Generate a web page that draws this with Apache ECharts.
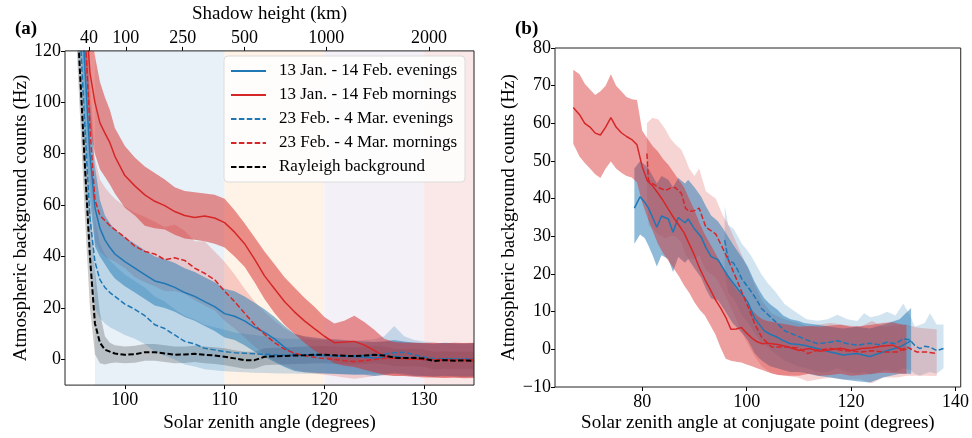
<!DOCTYPE html>
<html>
<head>
<meta charset="utf-8" />
<title>Atmospheric background counts</title>
<script src="https://cdn.jsdelivr.net/npm/echarts@6.0.0/dist/echarts.min.js"></script>
<style>
  html, body { margin: 0; padding: 0; background: #fff; }
  #main { width: 972px; height: 438px; }
</style>
</head>
<body>
<div id="main"></div>
<script type="text/javascript">
// ---------- panel (a): solar zenith angle (degrees) ----------
var A_X = [95, 95.5, 96, 96.5, 97, 97.5, 98, 98.5, 99, 100, 101, 102, 103, 104, 105, 106, 107, 108, 109, 110,
  111, 112, 113, 114, 115, 116, 117, 118, 119, 120, 121, 122, 123, 124, 125, 126, 127, 128, 129, 130,
  131, 132, 133, 134, 135];

// Rayleigh background
var A_RAY = [150, 112, 75, 40, 14, 6.5, 3.8, 3, 2.3, 1.8, 2.0, 2.8, 2.8, 2.3, 1.8, 1.9, 2.2, 1.8, 1.5, 1.0,
  0.4, -0.3, -0.3, 1.0, 1.2, 1.3, 1.5, 1.6, 1.8, 1.8, 1.6, 1.4, 1.3, 1.5, 1.8, 1.5, 0.7, 0.5, 0.6, 0.3,
  -0.6, -0.3, -0.5, -0.4, -0.6];
var A_RAY_HI = [165, 130, 95, 62, 35, 18, 9, 6.5, 5.5, 5, 5.3, 6, 6, 5.5, 5, 5, 5.3, 5, 4.7, 4.3,
  3.6, 3, 3, 4.3, 4.5, 4.6, 4.8, 5, 5.2, 5.2, 5, 4.8, 4.7, 5, 5.3, 5, 4.2, 4, 4.1, 3.8,
  3, 3.2, 3, 3.1, 3];
var A_RAY_LO = [135, 95, 55, 20, 2, -1.5, -2, -1.5, -1.2, -1.5, -1.3, -0.5, -0.5, -1, -1.5, -1.4, -1, -1.5, -1.8, -2.3,
  -3, -3.6, -3.6, -2.3, -2.1, -2, -1.8, -1.7, -1.5, -1.5, -1.7, -1.9, -2, -1.8, -1.5, -1.8, -2.6, -2.8, -2.7, -3,
  -3.9, -3.6, -3.8, -3.7, -3.9];

// 13 Jan. - 14 Feb. evenings
var A_EVE1 = [185, 150, 113, 80, 59, 51, 46.5, 43.5, 41, 38, 35.5, 33, 30.5, 29.5, 28, 26, 24.5, 22.5, 20.5, 17.8,
  16.8, 15, 12.5, 10.5, 8, 4.8, 2, 1.8, 1.8, 1.6, 1.4, 1.2, 1, 0.9, 0.5, 0.8, 1.2, 0.8, 0.4, 0,
  -0.2, 0.2, 0.1, 0, 0.2];
var A_EVE1_HI = [200, 170, 135, 100, 75, 62, 56, 53, 50.5, 47.5, 45, 42.5, 40, 39, 37.5, 35.5, 34, 32, 30, 27.5,
  26.5, 24.5, 22, 19.5, 16.5, 13, 10, 9, 8.5, 8, 7.8, 7.5, 7.2, 7, 6.8, 7, 7.5, 7, 6.5, 6.3,
  6, 6.5, 6.3, 6.2, 6.4];
var A_EVE1_LO = [170, 130, 92, 62, 44, 40, 37, 34, 31.5, 28.5, 26, 23.5, 21, 20, 18.5, 16.5, 15, 13, 11, 8.5,
  7.5, 5.5, 3, 1, -1, -3, -4.5, -5, -5.2, -5.4, -5.6, -5.8, -6, -6, -6.5, -6, -5.5, -6, -6.5, -6.5,
  -6.8, -6.4, -6.6, -6.8, -6.6];

// 13 Jan. - 14 Feb mornings
var A_MOR1 = [200, 170, 140, 111.5, 100, 92, 88, 84.3, 79, 71.5, 67.5, 64, 61.5, 59.8, 57.5, 56, 55.2, 55.8, 55, 53.2,
  49.5, 45, 39, 32.5, 27.5, 22.5, 18.5, 15, 12, 9, 6.5, 6.8, 7, 5.6, 3.5, 1.3, 0.6, 0.4, 0.2, 0,
  0, -0.3, -0.2, -0.4, -0.5];
var A_MOR1_HI = [215, 190, 160, 135, 118, 108, 102, 97, 90, 83, 78.5, 75, 72.5, 70, 67, 65.5, 65, 64.5, 64, 62.5,
  58, 53, 47.5, 42, 37, 32, 28, 24, 20.5, 16.5, 14, 15, 17, 14.5, 11.5, 8, 6.8, 6.5, 6.5, 6.4,
  6.5, 6.3, 6.5, 6.4, 6.5];
var A_MOR1_LO = [180, 150, 118, 90, 80, 74, 71, 68, 64.5, 59, 56, 52, 51, 50.5, 48.5, 47, 46.5, 46, 45, 43.5,
  40, 36, 30, 23.5, 18, 13.5, 10, 6.5, 3.5, 1, -1.5, -2.5, -3, -4, -5, -6, -6.5, -6.5, -6.8, -7,
  -7, -7.2, -7, -7.3, -7.2];

// 23 Feb. - 4 Mar. evenings
var A_EVE2 = [160, 128, 90, 55, 38, 31, 28, 26, 24.5, 21.5, 19.5, 17, 13.5, 12, 9.5, 7, 6, 4.3, 3.7, 3,
  2.6, 2.4, 2.2, 2, 1.8, 1.6, 1.6, 1.5, 1.5, 1.4, 1.4, 1.3, 1.4, 1.5, 1.6, 2, 2.6, 2.8, 1.8, 0.9,
  0.3, 0.2, 0.1, 0.1, 0];
var A_EVE2_HI = [180, 150, 112, 78, 55, 45, 41, 38.5, 36.5, 33, 30.5, 28, 24.5, 22.5, 19.5, 17, 15.5, 13.5, 12.5, 11.5,
  10.5, 10, 9.5, 9, 8.5, 8, 8, 7.8, 7.6, 7.5, 7.4, 7.2, 7.3, 7.5, 7.8, 9, 13, 9, 7.5, 7,
  6.5, 6.3, 6.2, 6.2, 6];
var A_EVE2_LO = [140, 105, 68, 35, 20, 16, 14, 12.5, 11.5, 9.5, 8, 6, 3, 1.5, 0, -2, -2.8, -3.8, -4.2, -4.6,
  -4.8, -5, -5.2, -5.3, -5.4, -5.5, -5.5, -5.6, -5.6, -5.7, -5.7, -5.8, -5.8, -5.7, -5.6, -5.5, -5.2, -5.3, -6, -6.4,
  -6.6, -6.7, -6.8, -6.8, -6.9];

// 23 Feb. - 4 Mar. mornings
var A_MOR2 = [190, 160, 128, 90, 62, 56, 54, 52, 50.5, 47.5, 44, 42, 41, 38.8, 39.5, 38.5, 35.5, 33.5, 31, 26.5,
  22.5, 18, 13.5, 9.8, 6.5, 4, 2.4, 1.5, 0.8, 0.3, 0, -0.5, -0.8, -0.5, 0, 0.4, 0.5, 0.3, 0.1, 0,
  -0.1, 0, -0.2, -0.1, 0];
var A_MOR2_HI = [210, 180, 148, 110, 78, 70, 67, 64.5, 62.5, 59.5, 57, 55.5, 53.5, 51.5, 52.5, 50, 46, 46, 42, 38,
  33, 27.5, 22.5, 18.5, 15, 12, 10, 8.7, 8, 7.5, 7.2, 6.8, 6.5, 6.5, 6.8, 7, 7, 6.8, 6.5, 6.4,
  6.3, 6.4, 6.2, 6.2, 6.3];
var A_MOR2_LO = [170, 140, 108, 70, 46, 42, 40, 39, 38, 35.5, 32, 30, 28.5, 26.5, 26.5, 25.5, 23, 21, 19, 15,
  12, 8.5, 5, 2, -0.5, -2.5, -4, -5, -5.5, -6, -6.5, -7, -7.5, -7, -6.5, -6.3, -6.4, -6.5, -6.6, -6.8,
  -7, -7, -7.2, -7.1, -7];

// shaded shadow-height regions
var SPAN_START = [97, 110, 120, 130];
var SPAN_END = [110, 120, 130, 135];
var SPAN_COLORS = ['#e8f1f7', '#fff2e6', '#f3f0f7', '#fae8e8'];

// top axis: shadow height (km) and where it falls in zenith angle
var SH_LABELS = ['40', '100', '250', '500', '1000', '2000'];
var SH_ANGLES = [96.4, 100.1, 105.8, 112.0, 120.2, 130.5];

var A_XTICKS = [100, 110, 120, 130];
var A_YTICKS = [0, 20, 40, 60, 80, 100, 120];

// ---------- panel (b): solar zenith angle at conjugate point ----------
var B_MOR1_X = [66.8, 68, 69, 70, 71, 72, 73, 74, 75, 76, 77, 78, 79, 80, 81, 82, 83, 84, 85, 86, 87, 88, 89, 90,
  91, 92, 93, 94, 95, 96, 97, 98, 99, 100, 101, 102, 103, 104, 106, 108, 110, 112, 114, 116, 118, 120, 122,
  124, 126, 128, 130, 130.6];
var B_MOR1 = [64.2, 62.3, 60, 59, 57.4, 56.9, 59, 61.5, 59, 57.5, 56.5, 55.7, 54.3, 48.5, 44.7, 43.4, 41.5, 39.5,
  37.2, 35, 33, 31, 28, 25, 21.5, 18.6, 16, 13.2, 11, 8.5, 5.3, 5.4, 5.8, 4.3, 3, 2, 1.5, 1.6, 1.3, 0.6,
  -0.3, 0.2, -0.5, -0.1, 0.3, -0.3, 0.2, 0.4, 0.9, 1.1, -0.2, 0];
var B_MOR1_HI = [74.2, 73, 70.5, 69, 67.5, 68.5, 70, 73, 70, 68.5, 67, 66.4, 66.2, 58, 56, 54, 52.5, 50.5, 49, 47,
  45, 43, 40, 37, 33.5, 30.5, 28, 25.5, 23, 20.5, 18, 16, 14.5, 12.5, 10.5, 9, 8, 7.5, 7, 6.5, 6, 6.2, 6,
  6.3, 6.5, 6, 6.2, 6.5, 7, 7.2, 6.5, 6.5];
var B_MOR1_LO = [54.6, 51.2, 49.5, 48, 46.5, 45.5, 48, 49.9, 48, 46.9, 46, 45.6, 44.3, 39, 35, 31.5, 28, 25.5,
  23.5, 21.5, 19.5, 17, 15, 12.5, 10.5, 9, 6.5, 4, 0.5, -2.5, -3, -3.3, -3.5, -4, -4.5, -5, -5.5, -6, -6.8,
  -7, -7, -6.5, -7, -6.8, -6.5, -7, -6.8, -6.5, -6.2, -6.3, -6.5, -6.5];

var B_EVE1_X = [78.5, 79.6, 80.5, 81.2, 82, 82.8, 83.7, 85, 85.9, 86.9, 88.2, 88.8, 90, 91.3, 92.2, 93.2, 94.5,
  95.5, 96.4, 97.3, 98.3, 99.3, 100.2, 101.5, 102.5, 103.4, 104.5, 105.9, 107, 108.4, 110, 111, 113.5, 116,
  118.5, 121.1, 123.6, 126.1, 129.3, 131.5];
var B_EVE1 = [37.5, 40.5, 39, 37.5, 35, 32.4, 35.4, 34.6, 31.1, 35, 33.6, 34.6, 32, 29.8, 27, 24.6, 23.8, 21.5,
  19.5, 17.8, 16, 14.3, 12.6, 8.3, 6.5, 4.9, 4, 3.2, 2.3, 1.5, 1.3, 1.1, 0.2, -0.7, -1.5, -1.1, -1.9, -0.7,
  0.6, 2.3];
var B_EVE1_HI = [48, 50, 49, 48, 46, 44, 46, 45, 43, 45.5, 44, 45, 43, 40.5, 38, 35.5, 34, 32, 30, 28, 26, 24, 22,
  18, 15.5, 13.5, 12, 10.5, 9, 8, 7.5, 7, 6.5, 6, 5.5, 6, 5.5, 6.5, 8, 11];
var B_EVE1_LO = [28, 30.5, 29.5, 27.5, 25, 22, 25, 24, 20.5, 24.5, 23, 24, 21.5, 19, 16, 13.5, 13, 11, 9, 7, 5.5,
  4, 2.5, -1, -2.5, -3.5, -4.5, -5, -5.5, -6, -6, -6.2, -7, -7.5, -8, -8.5, -8.8, -7.5, -6.5, -6.5];

var B_EVE2_X = [95.8, 96.5, 97.5, 98.3, 99.1, 100, 101, 102, 102.8, 104.1, 105.4, 107.3, 109.8, 111.5, 113.6,
  115.5, 117.4, 119.3, 121.2, 122.5, 123.7, 125.3, 126.9, 128.5, 130, 131.3, 132.2, 133.2, 134.1, 135.1, 136.4,
  137.7];
var B_EVE2 = [29, 23.7, 22.9, 21, 18.6, 17, 15.1, 13, 10.9, 9.2, 7.5, 4.9, 3.5, 2.5, 1.5, 1.8, 2.3, 1.5, 1.1, 1.4,
  1.6, 1.2, 1.9, 1.5, 2.8, 2.5, 1, 0.2, 0.8, 0.6, -0.3, 0.2];
var B_EVE2_HI = [38, 33, 32, 30, 28, 26.5, 24.5, 22, 20, 17.5, 15.5, 12, 9.5, 8, 7.6, 8, 9.2, 8, 7.5, 9.6, 8.5, 9,
  10, 9, 12.2, 9, 6, 6.5, 7, 9.6, 6.6, 6.6];
var B_EVE2_LO = [20, 15, 13.5, 11.5, 9, 7.5, 5.5, 3.5, 2, 0.5, -1, -3, -4.5, -5, -6, -6, -5, -6, -6.5, -6, -6.8,
  -6, -5.5, -6, -5, -5.5, -6.5, -7, -6.5, -6, -6.5, -5];

var B_MOR2_X = [80.9, 81.2, 82, 83.1, 84.4, 85.4, 86.3, 87.5, 88.3, 89, 90, 90.9, 92.2, 94.1, 95.3, 96.5, 97.8,
  99.1, 100.4, 101.6, 102.9, 104.8, 107.3, 109.8, 111.7, 113.6, 116.1, 118.5, 121.8, 124, 126.2, 128.8, 130.7,
  132.6, 134.5, 136.4];
var B_MOR2 = [52, 44.8, 44, 43, 42.2, 42.8, 43, 41.4, 37.5, 36.6, 36.8, 37.5, 32.4, 30.6, 27.2, 23.7, 19.5, 15.1,
  10.9, 6.6, 3.2, 0.6, 0.6, 0.4, -1.1, -0.2, 0.2, -0.3, -0.7, -0.4, -0.7, -0.7, 0.6, -0.7, -0.7, -1.1];
var B_MOR2_HI = [60, 60.5, 61.5, 61, 58.5, 56, 54.5, 53, 50.5, 48, 46, 48, 42, 40, 36, 33, 29, 25, 21, 17, 13, 9.5,
  8, 7, 6, 6.5, 7, 6.5, 6, 7.5, 6, 6.5, 6.5, 5.8, 5.5, 5.3];
var B_MOR2_LO = [40, 33, 32, 30.5, 29.5, 30, 30, 28.5, 25, 24, 24, 25, 21, 19, 16, 12.5, 8.5, 4.5, 1, -2, -4.5,
  -6.5, -7, -7.5, -8.5, -8, -7.5, -8, -8, -9, -7.5, -7.5, -7, -7, -7, -7.1];

var B_XTICKS = [80, 100, 120, 140];

var NAMES = ['13 Jan. - 14 Feb. evenings', '13 Jan. - 14 Feb mornings', '23 Feb. - 4 Mar. evenings',
  '23 Feb. - 4 Mar. mornings', 'Rayleigh background'];

var FONT = "'Liberation Serif', 'DejaVu Serif', serif";
var BLUE = '#1f77b4', RED = '#d62728';
var DASH = [5.5, 2.4];

function fmtNum(v) {
    return v < 0 ? '\u2212' + (-v) : String(v);
}

// filled band between lower and upper curves, drawn as one polygon
function band(xi, yi, xs, lo, hi, fill) {
    return {
        type: 'custom', xAxisIndex: xi, yAxisIndex: yi, clip: true, silent: true, z: 2,
        data: xs.map(function (x, i) { return [x, lo[i], hi[i]]; }),
        encode: { x: 0, y: [1, 2] },
        renderItem: function (params, api) {
            if (params.dataIndex !== 0) return null;
            var pts = [];
            for (var i = 0; i < xs.length; i++) pts.push(api.coord([xs[i], hi[i]]));
            for (var j = xs.length - 1; j >= 0; j--) pts.push(api.coord([xs[j], lo[j]]));
            return { type: 'polygon', shape: { points: pts }, style: { fill: fill } };
        }
    };
}

function line(name, xi, yi, xs, ys, color, dashed, width) {
    return {
        type: 'line', name: name, xAxisIndex: xi, yAxisIndex: yi, symbol: 'none', silent: true, z: 3,
        data: xs.map(function (x, i) { return [x, ys[i]]; }),
        lineStyle: { color: color, width: width || 1.5, type: dashed ? DASH : 'solid' },
        itemStyle: { color: color }
    };
}

var axisText = { fontFamily: FONT, fontSize: 18, color: '#000', showMinLabel: true, showMaxLabel: true, hideOverlap: false };
var nameText = { fontFamily: FONT, fontSize: 19, color: '#000' };
var tickStyle = { length: 4, lineStyle: { color: '#000', width: 1 } };
var noLine = { show: false, onZero: false };

var chart = echarts.init(document.getElementById('main'));

var option = {
    animation: false,
    backgroundColor: '#fff',
    title: [
        { text: '(a)', left: 10, top: 15, textStyle: { fontFamily: FONT, fontSize: 19, fontWeight: 'bold', color: '#000' } },
        { text: '(b)', left: 510, top: 15, textStyle: { fontFamily: FONT, fontSize: 19, fontWeight: 'bold', color: '#000' } }
    ],
    grid: [
        { left: 65, top: 47, width: 409, height: 350, show: true, borderColor: '#222', borderWidth: 1, backgroundColor: 'transparent', z: 10 },
        { left: 555, top: 48, width: 409, height: 350, show: true, borderColor: '#222', borderWidth: 1, backgroundColor: 'transparent', z: 10 }
    ],
    legend: {
        data: NAMES,
        orient: 'vertical',
        left: 224, top: 56,
        itemWidth: 35, itemHeight: 12, itemGap: 6,
        padding: [6, 8, 6, 6],
        backgroundColor: 'rgba(255,255,255,0.82)',
        borderColor: '#dcdcdc', borderWidth: 1, borderRadius: 4,
        itemStyle: { opacity: 0 },
        textStyle: { fontFamily: FONT, fontSize: 17, color: '#000', lineHeight: 18, padding: [0, 0, 0, 8] },
        selectedMode: false,
        z: 12
    },
    xAxis: [
        {
            gridIndex: 0, type: 'value', min: 94, max: 135, position: 'bottom',
            name: 'Solar zenith angle (degrees)', nameLocation: 'middle', nameGap: 27, nameTextStyle: nameText,
            axisLine: noLine, splitLine: { show: false },
            axisTick: Object.assign({ customValues: A_XTICKS }, tickStyle),
            axisLabel: Object.assign({ customValues: A_XTICKS, margin: 6 }, axisText)
        },
        {
            gridIndex: 0, type: 'value', min: 94, max: 135, position: 'top',
            name: 'Shadow height (km)', nameLocation: 'middle', nameGap: 19, nameTextStyle: nameText,
            axisLine: noLine, splitLine: { show: false },
            axisTick: Object.assign({ customValues: SH_ANGLES }, tickStyle),
            axisLabel: Object.assign({
                customValues: SH_ANGLES, margin: 4,
                formatter: function (v) {
                    var best = 0;
                    for (var i = 1; i < SH_ANGLES.length; i++) {
                        if (Math.abs(SH_ANGLES[i] - v) < Math.abs(SH_ANGLES[best] - v)) best = i;
                    }
                    return SH_LABELS[best];
                }
            }, axisText)
        },
        {
            gridIndex: 1, type: 'value', min: 63.3, max: 141, position: 'bottom',
            name: 'Solar zenith angle at conjugate point (degrees)', nameLocation: 'middle', nameGap: 27, nameTextStyle: nameText,
            nameMoveOverlap: false,
            axisLine: noLine, splitLine: { show: false },
            axisTick: Object.assign({ customValues: B_XTICKS }, tickStyle),
            axisLabel: Object.assign({ customValues: B_XTICKS, margin: 6 }, axisText)
        }
    ],
    yAxis: [
        {
            gridIndex: 0, type: 'value', min: -10, max: 120,
            name: 'Atmospheric background counts (Hz)', nameLocation: 'middle', nameGap: 28, nameTextStyle: nameText,
            axisLine: noLine, splitLine: { show: false },
            axisTick: Object.assign({ customValues: A_YTICKS }, tickStyle),
            axisLabel: Object.assign({ customValues: A_YTICKS, margin: 4, formatter: fmtNum }, axisText)
        },
        {
            gridIndex: 1, type: 'value', min: -10, max: 80, interval: 10,
            name: 'Atmospheric background counts (Hz)', nameLocation: 'middle', nameGap: 32, nameTextStyle: nameText,
            axisLine: noLine, splitLine: { show: false },
            axisTick: tickStyle,
            axisLabel: Object.assign({ margin: 4, formatter: fmtNum }, axisText)
        }
    ],
    series: [
        {
            // shadow-height shading behind panel (a)
            type: 'custom', xAxisIndex: 0, yAxisIndex: 0, clip: true, silent: true, z: 1,
            data: SPAN_START.map(function (s, i) { return [s, SPAN_END[i]]; }),
            renderItem: function (params, api) {
                var p0 = api.coord([api.value(0), 0]);
                var p1 = api.coord([api.value(1), 0]);
                var cs = params.coordSys;
                return {
                    type: 'rect',
                    shape: { x: p0[0], y: cs.y, width: p1[0] - p0[0], height: cs.height },
                    style: { fill: SPAN_COLORS[params.dataIndex] }
                };
            }
        },
        band(0, 0, A_X, A_RAY_LO, A_RAY_HI, 'rgba(0,0,0,0.2)'),
        band(0, 0, A_X, A_EVE2_LO, A_EVE2_HI, 'rgba(31,119,180,0.22)'),
        band(0, 0, A_X, A_MOR2_LO, A_MOR2_HI, 'rgba(214,39,40,0.2)'),
        band(0, 0, A_X, A_EVE1_LO, A_EVE1_HI, 'rgba(31,119,180,0.5)'),
        band(0, 0, A_X, A_MOR1_LO, A_MOR1_HI, 'rgba(214,39,40,0.5)'),
        line(NAMES[0], 0, 0, A_X, A_EVE1, BLUE, false),
        line(NAMES[1], 0, 0, A_X, A_MOR1, RED, false),
        line(NAMES[2], 0, 0, A_X, A_EVE2, BLUE, true),
        line(NAMES[3], 0, 0, A_X, A_MOR2, RED, true),
        line(NAMES[4], 0, 0, A_X, A_RAY, '#000', true, 2),

        band(2, 1, B_EVE2_X, B_EVE2_LO, B_EVE2_HI, 'rgba(31,119,180,0.2)'),
        band(2, 1, B_MOR2_X, B_MOR2_LO, B_MOR2_HI, 'rgba(214,39,40,0.2)'),
        band(2, 1, B_EVE1_X, B_EVE1_LO, B_EVE1_HI, 'rgba(31,119,180,0.5)'),
        band(2, 1, B_MOR1_X, B_MOR1_LO, B_MOR1_HI, 'rgba(214,39,40,0.45)'),
        line(NAMES[0], 2, 1, B_EVE1_X, B_EVE1, BLUE, false),
        line(NAMES[1], 2, 1, B_MOR1_X, B_MOR1, RED, false),
        line(NAMES[2], 2, 1, B_EVE2_X, B_EVE2, BLUE, true),
        line(NAMES[3], 2, 1, B_MOR2_X, B_MOR2, RED, true)
    ]
};

chart.setOption(option);
</script>
</body>
</html>
